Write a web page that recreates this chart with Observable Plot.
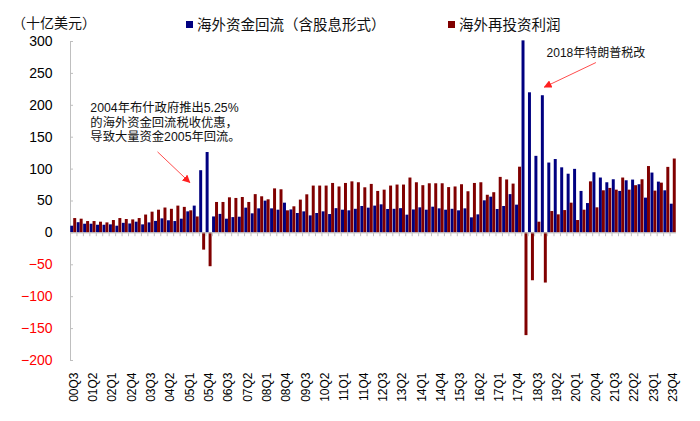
<!DOCTYPE html>
<html>
<head>
<meta charset="utf-8">
<script src="https://cdn.jsdelivr.net/npm/d3@7"></script>
<script src="https://cdn.jsdelivr.net/npm/@observablehq/plot@0.6"></script>
<style>
  body { margin: 0; background: #fff; font-family: "Liberation Sans", "Noto Sans CJK SC", sans-serif; }
  #wrap { width: 700px; height: 421px; position: relative; overflow: hidden; }
  #head { position: relative; height: 33px; font-size: 14.5px; color: #111; }
  #head span { position: absolute; top: 16px; line-height: 18px; white-space: nowrap; }
  .sw { display: inline-block; width: 7px; height: 7px; margin-right: 4px; vertical-align: 2px; }
</style>
</head>
<body>
<div id="wrap">
  <div id="head">
    <span style="left:12px;top:14px;font-size:14px;">（十亿美元）</span>
    <span style="left:186px;"><i class="sw" style="background:#000080"></i>海外资金回流（含股息形式）</span>
    <span style="left:448px;"><i class="sw" style="background:#800000"></i>海外再投资利润</span>
  </div>
  <div id="chart"></div>
</div>
<script>
const quarters = ["00Q3","00Q4","01Q1","01Q2","01Q3","01Q4","02Q1","02Q2","02Q3","02Q4",
"03Q1","03Q2","03Q3","03Q4","04Q1","04Q2","04Q3","04Q4","05Q1","05Q2",
"05Q3","05Q4","06Q1","06Q2","06Q3","06Q4","07Q1","07Q2","07Q3","07Q4",
"08Q1","08Q2","08Q3","08Q4","09Q1","09Q2","09Q3","09Q4","10Q1","10Q2",
"10Q3","10Q4","11Q1","11Q2","11Q3","11Q4","12Q1","12Q2","12Q3","12Q4",
"13Q1","13Q2","13Q3","13Q4","14Q1","14Q2","14Q3","14Q4","15Q1","15Q2",
"15Q3","15Q4","16Q1","16Q2","16Q3","16Q4","17Q1","17Q2","17Q3","17Q4",
"18Q1","18Q2","18Q3","18Q4","19Q1","19Q2","19Q3","19Q4","20Q1","20Q2",
"20Q3","20Q4","21Q1","21Q2","21Q3","21Q4","22Q1","22Q2","22Q3","22Q4",
"23Q1","23Q2","23Q3","23Q4"];

// 海外资金回流（含股息形式）
const repatriation = [
10.5,16,13.6,13.6,12,12,12.6,10.5,15,14,
16.8,12.6,15.7,18,22,19,17.8,21.5,33,42,
97.5,126,25,29,21.5,24,24.6,38.8,29.9,37.7,
49.8,37.7,35.6,46.6,36,30.4,33,26.7,30.4,33,
28.8,38,35.6,34.6,37,41.4,38.8,42,44,36.7,
37,38,27.8,36,39.3,35.6,40.3,37.7,35.6,37,
34.6,37.7,23.6,28.3,50.3,56,36.7,41.4,60,43.5,
301,219.6,120,215,109.5,115,102,92,99.6,65,
46,94.3,86,78.6,83.3,65,81.7,82.8,75.5,54.5,
93.8,79.6,66,45];

// 海外再投资利润
const reinvested = [
22.5,21.5,17.8,17.8,16.8,15.7,19.4,22.5,21,20.4,
22.5,28,32.5,35.6,39,37,42,40,34.6,25,
-27,-53,47.7,47.7,55,54,55.5,47.7,60,56.6,
51.9,69,67.6,34.6,40.9,51.4,59.7,73.4,73.4,73.4,
77.5,72,77.5,80,78.6,70.7,76,65,67,73.4,
75,75,86,78.6,74,77,77,77,71,72,
75.5,64.5,77.5,78.6,59,63,87,83,76.5,103,
-161,-75,16.8,-78.6,33.5,28.3,35,46.6,19.4,35.6,
80,39.3,66,69.7,67,86,67,74,83.3,104,
65.5,78,102.7,115.8];

const xTickLabels = ["00Q3","01Q2","02Q1","02Q4","03Q3","04Q2","05Q1","05Q4","06Q3","07Q2",
"08Q1","08Q4","09Q3","10Q2","11Q1","11Q4","12Q3","13Q2","14Q1","14Q4","15Q3","16Q2",
"17Q1","17Q4","18Q3","19Q2","20Q1","20Q4","21Q3","22Q2","23Q1","23Q4"];
const yTicks = [-200,-150,-100,-50,0,50,100,150,200,250,300];

const noteTexts = ["2004年布什政府推出5.25%\n的海外资金回流税收优惠，\n导致大量资金2005年回流。", "2018年特朗普税改"];
const noteQuarters = ["01Q2","19Q1"];
const noteValues = [206, 281];
const noteAnchors = ["top","middle"];
const arrowFromQ = ["03Q4","20Q4"];
const arrowFromV = [127, 267];
const arrowToQ = ["05Q1","18Q4"];
const arrowToV = [79, 228.5];

const data = quarters.map((q, i) => ({q, blue: repatriation[i], red: reinvested[i]}));
const notes = noteTexts.map((t, i) => ({t, q: noteQuarters[i], v: noteValues[i], a: noteAnchors[i]}));
const arrows = arrowFromQ.map((q, i) => ({q1: q, v1: arrowFromV[i], q2: arrowToQ[i], v2: arrowToV[i]}));

const W = 700, H = 388, ML = 70, MR = 24;
const bw = (W - ML - MR) / quarters.length;
const gray = "#bfbfbf";

const chart = Plot.plot({
  width: W, height: H,
  marginLeft: ML, marginRight: MR, marginTop: 8, marginBottom: 61,
  style: {fontFamily: "'Liberation Sans','Noto Sans CJK SC',sans-serif", background: "#fff", color: "#000"},
  x: {type: "band", domain: quarters, padding: 0, round: false, axis: null},
  y: {domain: [-200, 300], axis: null},
  color: {type: "identity"},
  marks: [
    Plot.frame({anchor: "left", stroke: gray}),
    Plot.barY(data, {x: "q", y: "blue", fill: "#000080", insetLeft: 0.25, insetRight: bw / 2}),
    Plot.barY(data, {x: "q", y: "red", fill: "#800000", insetLeft: bw / 2, insetRight: 0.25}),
    Plot.ruleY([0], {stroke: gray}),
    Plot.ruleX(quarters, {x: d => d, y1: 0, y2: -6, stroke: gray, dx: -bw / 2}),
    Plot.axisY(yTicks, {anchor: "left", tickSize: 3, dx: 3, tickFormat: () => "", stroke: gray, label: null}),
    Plot.axisY(yTicks, {anchor: "left", tickSize: 0, tickPadding: 18, fontSize: 14,
      fill: d => d < 0 ? "#ff0000" : "#000000", label: null}),
    Plot.axisX(xTickLabels, {anchor: "bottom", tickSize: 0, tickRotate: -90, tickPadding: 12,
      fontSize: 12, label: null, fill: "#000"}),
    Plot.text(notes.filter(d => d.a === "top"), {x: "q", y: "v", text: "t", textAnchor: "start", lineAnchor: "top",
      dx: -bw / 2 + 0.5, fontSize: 12.3, lineHeight: 1.2, fill: "#111"}),
    Plot.text(notes.filter(d => d.a === "middle"), {x: "q", y: "v", text: "t", textAnchor: "start", lineAnchor: "middle",
      dx: -bw / 2 - 1, fontSize: 12, fill: "#111"}),
    Plot.link(arrows, {x1: "q1", y1: "v1", x2: "q2", y2: "v2", stroke: "#ff4d4d", strokeWidth: 1})
  ]
});

const svg = d3.select(chart);
const defs = svg.insert("defs", ":first-child");
defs.append("marker")
  .attr("id", "ahead").attr("viewBox", "0 0 10 10")
  .attr("refX", 9).attr("refY", 5)
  .attr("markerWidth", 8).attr("markerHeight", 8)
  .attr("markerUnits", "userSpaceOnUse").attr("orient", "auto")
  .append("path").attr("d", "M0,0L10,5L0,10z").attr("fill", "#ff2020");
svg.selectAll('g[aria-label="link"] path').attr("marker-end", "url(#ahead)");

document.getElementById("chart").appendChild(chart);
</script>
</body>
</html>
